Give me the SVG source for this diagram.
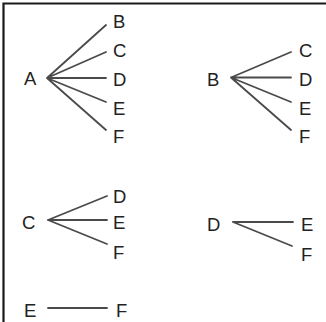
<svg xmlns="http://www.w3.org/2000/svg" width="326" height="322" viewBox="0 0 326 322">
<style>
text{font-family:"Liberation Sans",Arial,sans-serif;font-size:18.5px;fill:#222}
.e{stroke:#4a4a4a;stroke-width:1.8;fill:none;stroke-linecap:round}
.frame{stroke:#1a1a1a;stroke-width:2.2;fill:none}
</style>
<rect width="326" height="322" fill="#fff"/>
<path class="frame" d="M3.5,322 V3.5 H326"/>
<g id="connectors">
<path class="e" d="M47,78 L106,25 M47,78 L106,52 M47,78 L106,78 M47,78 L106,102 M47,78 L106,130"/>
<path class="e" d="M231,77.5 L291,52 M231,77.5 L291,77.5 M231,77.5 L291,102 M231,77.5 L291,130"/>
<path class="e" d="M48,220 L107,196 M48,220 L107,220 M48,220 L107,244"/>
<path class="e" d="M233,222 L293,222 M233,222 L292,246"/>
<path class="e" d="M48,308 L107,308"/>
</g>
<g id="tree-A">
<text x="24" y="85">A</text>
<text x="113" y="28">B</text>
<text x="113" y="57">C</text>
<text x="113" y="85.5">D</text>
<text x="113" y="114.5">E</text>
<text x="113" y="143">F</text>
</g>
<g id="tree-B">
<text x="207" y="85.5">B</text>
<text x="299" y="57">C</text>
<text x="299" y="85.5">D</text>
<text x="299" y="114.5">E</text>
<text x="299" y="143">F</text>
</g>
<g id="tree-C">
<text x="22" y="229">C</text>
<text x="113" y="203">D</text>
<text x="113" y="229">E</text>
<text x="113" y="258.5">F</text>
</g>
<g id="tree-D">
<text x="207" y="230.5">D</text>
<text x="301" y="230.5">E</text>
<text x="301" y="260.5">F</text>
</g>
<g id="tree-E">
<text x="24" y="316.5">E</text>
<text x="116" y="316.5">F</text>
</g>
</svg>
